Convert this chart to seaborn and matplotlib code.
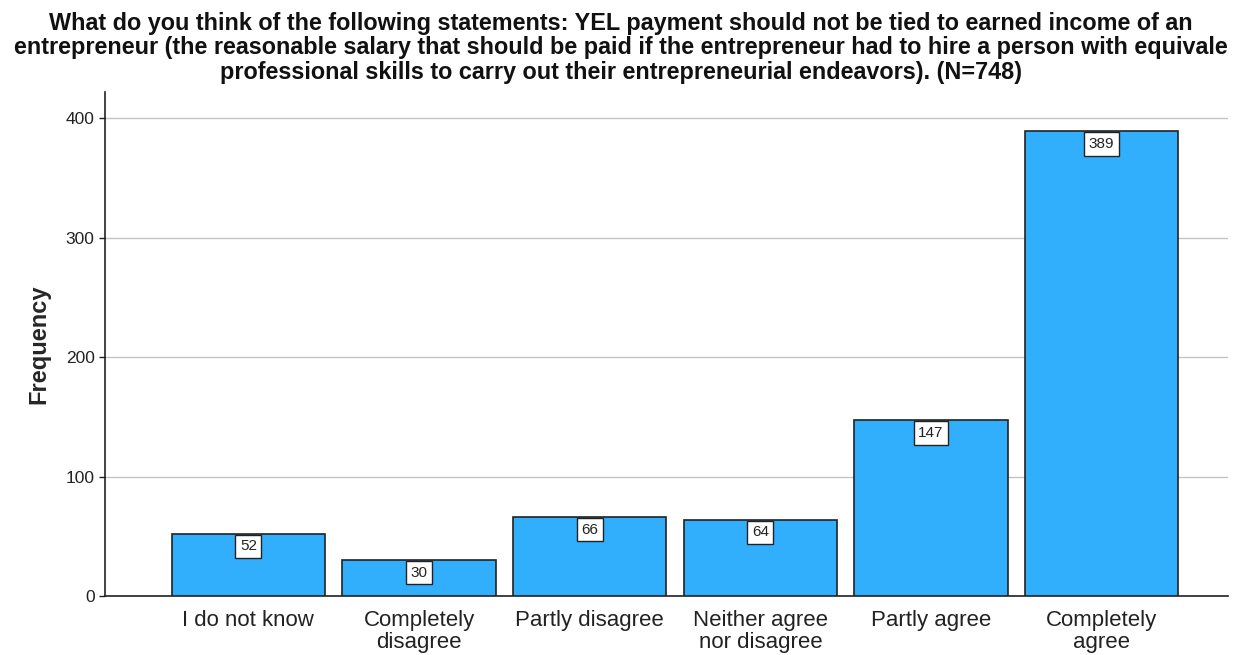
import matplotlib
matplotlib.use("Agg")
import matplotlib.pyplot as plt
import seaborn as sns
import pandas as pd

categories = ["I do not know", "Completely\ndisagree", "Partly disagree",
              "Neither agree\nnor disagree", "Partly agree", "Completely\nagree"]
frequencies = [52, 30, 66, 64, 147, 389]
yticks = [0, 100, 200, 300, 400]
title = ("What do you think of the following statements: YEL payment should not be tied to earned income of an\n"
         "entrepreneur (the reasonable salary that should be paid if the entrepreneur had to hire a person with equivale\n"
         "professional skills to carry out their entrepreneurial endeavors). (N=748)")

sns.set_theme(style="white")
plt.rcParams['font.family'] = ['Liberation Sans', 'DejaVu Sans']

df = pd.DataFrame({"category": categories, "frequency": frequencies})

fig = plt.figure(figsize=(12.37, 6.55), dpi=100)
ax = fig.add_axes([0.0849, 0.0901, 0.9078, 0.7694])

sns.barplot(data=df, x="category", y="frequency", ax=ax, color="#31aefc",
            saturation=1, width=0.9, edgecolor="#222222", linewidth=1.2, zorder=3)

ax.set_xlim(-0.84, 5.74)
ax.set_ylim(0, 422)
ax.set_yticks(yticks)
ax.yaxis.grid(True, color="#c4c4c4", linewidth=1, zorder=0)
ax.xaxis.grid(False)
for s in ["top", "right"]:
    ax.spines[s].set_visible(False)
for s in ["left", "bottom"]:
    ax.spines[s].set_color("#222222")
    ax.spines[s].set_linewidth(1.2)

ax.tick_params(axis="y", labelsize=12.5, colors="#222222", length=4, width=1, left=True)
ax.tick_params(axis="x", labelsize=16, length=0, pad=10)
for lbl in ax.get_xticklabels():
    lbl.set_linespacing(1.05)
    lbl.set_color("#222222")
ax.set_xlabel("")
ax.set_ylabel("Frequency", fontsize=17, fontweight="bold", labelpad=11)

for i, v in enumerate(frequencies):
    ax.annotate(str(v), xy=(i, v), xytext=(0, -4), textcoords="offset points",
                ha="center", va="top", fontsize=11, color="#222222", zorder=5,
                bbox=dict(boxstyle="square,pad=0.3", fc="white", ec="#222222", lw=1))

fig.text(0.502, 0.982, title, ha="center", va="top", fontsize=16.8,
         fontweight="bold", linespacing=1.08, color="#111111")

fig.savefig("out.png", dpi=100, facecolor="white")
